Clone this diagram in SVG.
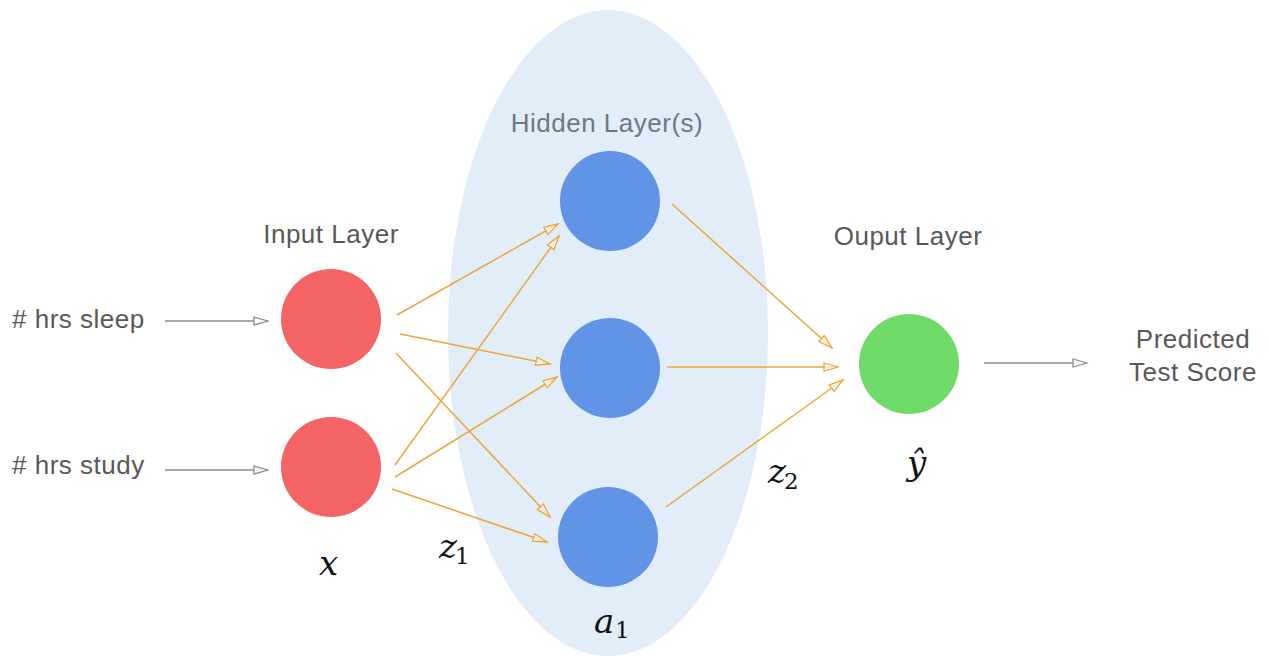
<svg xmlns="http://www.w3.org/2000/svg" width="1269" height="656" viewBox="0 0 1269 656">
<defs>
<style>
.lbl{font-family:"Liberation Sans",Arial,sans-serif;font-size:26px;fill:#585858;letter-spacing:0.5px}
.math{font-family:"DejaVu Serif",serif;font-style:italic;font-size:34px;fill:#111111}
.sub{font-family:"DejaVu Serif",serif;font-size:23px;fill:#111111}
.o{stroke:#eea53a;stroke-width:1.5;fill:none;marker-end:url(#ho)}
.g{stroke:#8a8a8a;stroke-width:1.5;fill:none;marker-end:url(#hg)}
</style>
<marker id="ho" markerUnits="userSpaceOnUse" markerWidth="18" markerHeight="12" viewBox="0 0 18 12" refX="16" refY="6" orient="auto">
<path d="M2,2 L16,6 L2,10 Z" fill="#fff" fill-opacity="0.7" stroke="#eea53a" stroke-width="1.3"/>
</marker>
<marker id="hg" markerUnits="userSpaceOnUse" markerWidth="18" markerHeight="12" viewBox="0 0 18 12" refX="16" refY="6" orient="auto">
<path d="M2,2 L16,6 L2,10 Z" fill="#fff" stroke="#8a8a8a" stroke-width="1.3"/>
</marker>
</defs>
<rect width="1269" height="656" fill="#ffffff"/>
<g id="hidden-layer-region">
<ellipse cx="608" cy="333" rx="160" ry="323" fill="#e1edf8"/>
<text x="607" y="132" text-anchor="middle" class="lbl" style="fill:#6c7885">Hidden Layer(s)</text>
</g>
<g id="labels">
<text x="12" y="328" class="lbl"># hrs sleep</text>
<text x="12" y="474" class="lbl"># hrs study</text>
<text x="331" y="243" text-anchor="middle" class="lbl">Input Layer</text>
<text x="908" y="245" text-anchor="middle" class="lbl">Ouput Layer</text>
<text x="1193" y="348" text-anchor="middle" class="lbl">Predicted</text>
<text x="1193" y="381" text-anchor="middle" class="lbl">Test Score</text>
</g>
<g id="connectors">
<line class="g" x1="165" y1="321" x2="268" y2="321"/>
<line class="g" x1="165" y1="470" x2="268" y2="470"/>
<line class="g" x1="984" y1="363" x2="1087" y2="363"/>
<line class="o" x1="397" y1="315" x2="558" y2="224"/>
<line class="o" x1="400" y1="334" x2="550" y2="364"/>
<line class="o" x1="396" y1="353" x2="550" y2="517"/>
<line class="o" x1="395" y1="465" x2="559" y2="236"/>
<line class="o" x1="395" y1="477" x2="557" y2="377"/>
<line class="o" x1="392" y1="489" x2="547" y2="542"/>
<line class="o" x1="672" y1="204" x2="832" y2="348"/>
<line class="o" x1="667" y1="367" x2="838" y2="367"/>
<line class="o" x1="666" y1="507" x2="843" y2="380"/>
</g>
<g id="input-1"><circle cx="331" cy="319" r="50" fill="#f46464"/></g>
<g id="input-2"><circle cx="331" cy="467" r="50" fill="#f46464"/></g>
<g id="hidden-1"><circle cx="610" cy="201" r="50" fill="#6193e6"/></g>
<g id="hidden-2"><circle cx="610" cy="368" r="50" fill="#6193e6"/></g>
<g id="hidden-3"><circle cx="608" cy="537" r="50" fill="#6193e6"/></g>
<g id="output"><circle cx="909" cy="364" r="50" fill="#6edb69"/></g>
<g id="math-labels">
<text x="319" y="575" class="math">x</text>
<text x="439" y="558" class="math">z</text><text x="455" y="564" class="sub">1</text>
<text x="594" y="633" class="math">a</text><text x="615" y="638" class="sub">1</text>
<text x="768" y="483" class="math">z</text><text x="784" y="489" class="sub">2</text>
<text x="907" y="475" class="math">ŷ</text>
</g>
</svg>
